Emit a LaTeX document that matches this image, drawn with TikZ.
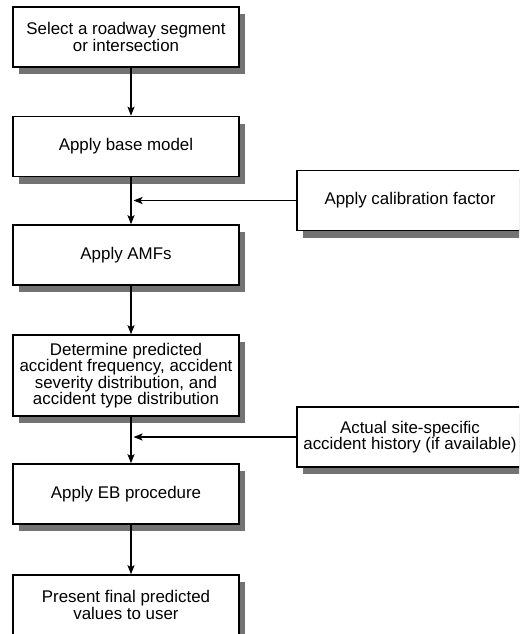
\documentclass[tikz,border=0pt]{standalone}
\usepackage{fontspec}
\setmainfont{Liberation Sans}
\usetikzlibrary{arrows.meta,shadows}

\begin{document}
\begin{tikzpicture}[x=1pt,y=1pt]
                \tikzstyle{every node}+=[inner sep=0pt]
                \tikzstyle{stepbox}=[draw=black, line width=1.6pt, fill=white, minimum width=226pt, minimum height=60pt, align=center, font=\fontsize{16.9}{16.3}\selectfont, drop shadow={shadow xshift=6pt, shadow yshift=-7pt, fill=black!55, opacity=1}]
                \tikzstyle{flow}=[black, line width=1.6pt, -{Stealth[length=9pt,width=7pt,inset=2pt]}]
                \useasboundingbox (0,0) rectangle (519,-634);
                \clip (0,0) rectangle (519,-634);
                \coordinate (spine) at (131,0);
                \node [stepbox] (select) at (126,-37) {Select a roadway segment\\or intersection};
                \node [stepbox] (base) at (126,-146.5) {Apply base model};
                \node [stepbox] (amf) at (126,-255) {Apply AMFs};
                \node [stepbox, minimum height=81pt] (predict) at (126,-375.5) {Determine predicted\\accident frequency, accident\\severity distribution, and\\accident type distribution};
                \node [stepbox] (eb) at (126,-494) {Apply EB procedure};
                \node [stepbox] (final) at (126,-605) {Present final predicted\\values to user};
                \node [stepbox] (calib) at (410,-200.5) {Apply calibration factor};
                \node [stepbox] (history) at (410,-437) {Actual site-specific\\accident history (if available)};
                \draw [flow] (select.south -| spine) -- (base.north -| spine);
                \draw [flow] (base.south -| spine) -- (amf.north -| spine);
                \draw [flow] (amf.south -| spine) -- (predict.north -| spine);
                \draw [flow] (predict.south -| spine) -- (eb.north -| spine);
                \draw [flow] (eb.south -| spine) -- (final.north -| spine);
                \draw [flow, shorten >=2.5pt] (calib.west) -- (calib.west -| spine);
                \draw [flow, shorten >=2.5pt] (history.west) -- (history.west -| spine);
\end{tikzpicture}
\end{document}
